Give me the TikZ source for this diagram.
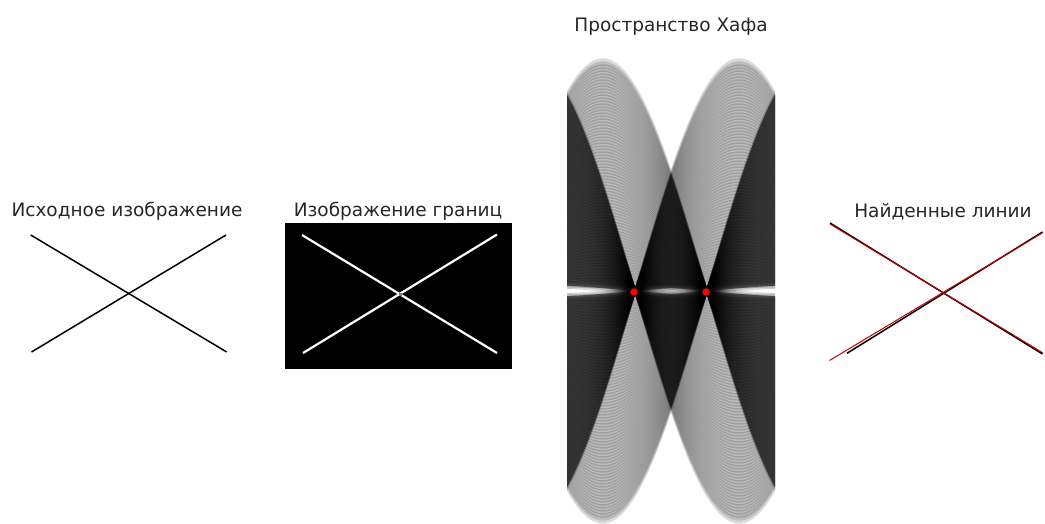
\documentclass[tikz,border=0pt]{standalone}
\usepackage{fontspec}
\setmainfont{DejaVu Sans}
\usetikzlibrary{positioning}
\tikzset{
    titel/.style     = {anchor=base, inner sep=0pt, text=black!85, font=\fontsize{18.5}{22}\selectfont},
    bildlinie/.style = {line width=1.5pt, black},
    kante/.style     = {line width=2.2pt, white},
    kurve/.style     = {fill=black, opacity=0.14},
    dunkel/.style    = {fill=black, opacity=0.5},
    treffer/.style   = {circle, fill=red, inner sep=0pt, minimum size=7.5pt},
    fund/.style      = {line width=1pt, red!75!black}
}

\begin{document}
\begin{tikzpicture}[x=1pt, y=-1pt]
        \useasboundingbox (0,0) rectangle (1045,524);

        % Ausgangsbild
        \node[titel] (t1) at (127,217) {Исходное изображение};
        \draw[bildlinie] (30.7,235) -- (226.7,352);
        \draw[bildlinie] (31.5,352) -- (226,235);

        % Kantenbild
        \node[titel] (t2) at (398,216) {Изображение границ};
        \fill[black] (285,223) rectangle (512,369);
        \draw[kante] (302,235) -- (497,353);
        \draw[kante] (303,353) -- (497,234.5);
        \fill[gray] (398.5,292.5) rectangle (401.5,295.5);

        % Hough-Raum: je Kantenpunkt ein Sinusband
        \node[titel] (t3) at (671,31.5) {Пространство Хафа};
        \begin{scope}
            \clip (567,0) rectangle (775,524);
            \foreach \s in {7,10,...,229} {
                \foreach \w/\v in {31/1, 31/-1, -31/1, -31/-1} {
                    \fill[kurve] plot[domain=-90:90, samples=49]
                            ({671+\x*104/90}, {291-\v*\s*sin(\x+\w)-3.75})
                        -- plot[domain=90:-90, samples=49]
                            ({671+\x*104/90}, {291-\v*\s*sin(\x+\w)+3.75}) -- cycle;
                }
            }
            \fill[dunkel] plot[domain=-90:90, samples=91]
                    ({671+\x*104/90}, {291-229*min(abs(sin(\x+31)),abs(sin(\x-31)))})
                -- plot[domain=90:-90, samples=91]
                    ({671+\x*104/90}, {291-6*min(abs(sin(\x+31)),abs(sin(\x-31)))}) -- cycle;
            \fill[dunkel] plot[domain=-90:90, samples=91]
                    ({671+\x*104/90}, {291+229*min(abs(sin(\x+31)),abs(sin(\x-31)))})
                -- plot[domain=90:-90, samples=91]
                    ({671+\x*104/90}, {291+6*min(abs(sin(\x+31)),abs(sin(\x-31)))}) -- cycle;
        \end{scope}
        \node[treffer] (max1) at (634,292) {};
        \node[treffer] (max2) at (706,292) {};

        % gefundene Linien
        \node[titel] (t4) at (943,218) {Найденные линии};
        \draw[bildlinie] (830,223) -- (1042.5,354);
        \draw[bildlinie] (847,353.3) -- (1042.5,232);
        \draw[fund] (830,224) -- (1043,353);
        \draw[fund] (829.5,360.5) -- (1043,232.5);
    \end{tikzpicture}
\end{document}
